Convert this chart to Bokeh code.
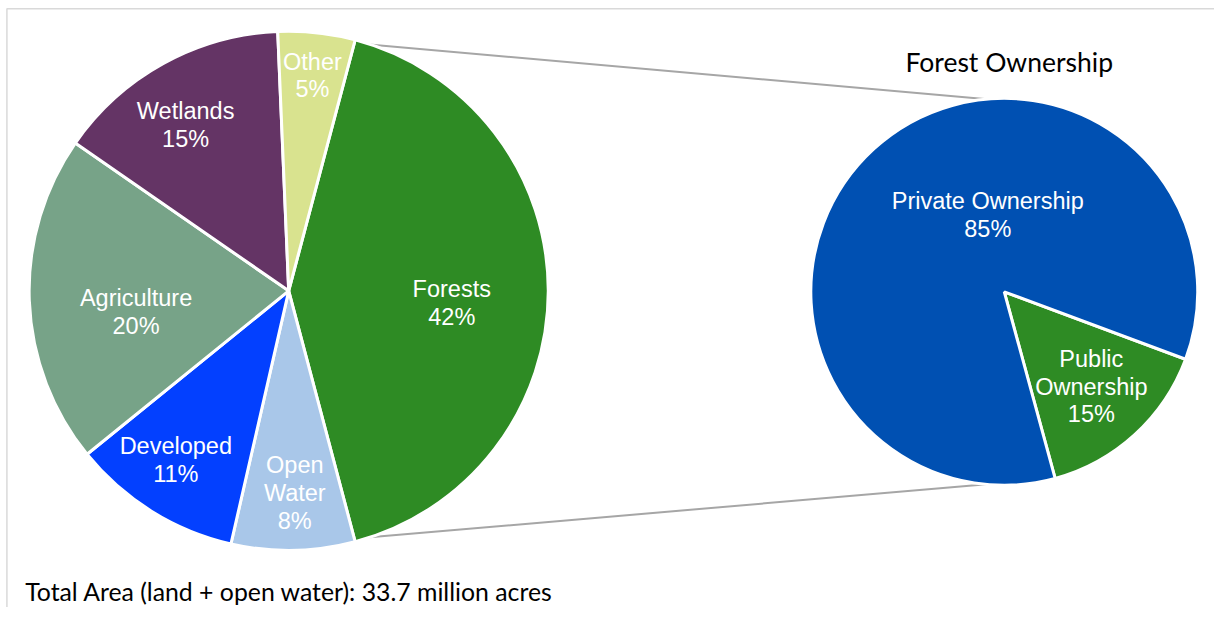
import math
from bokeh.plotting import figure
from bokeh.models import Range1d
from bokeh.embed import file_html
from bokeh.resources import INLINE
from bokeh.core.properties import value

# ---------------- data ----------------
land_categories = ["Forests", "Open\nWater", "Developed", "Agriculture", "Wetlands", "Other"]
land_shares = [41.8, 7.7, 10.6, 20.5, 14.7, 4.8]
land_pct_labels = ["42%", "8%", "11%", "20%", "15%", "5%"]

owner_categories = ["Public\nOwnership", "Private Ownership"]
owner_shares = [15.1, 84.9]
owner_pct_labels = ["15%", "85%"]

title_text = "Forest Ownership"
footnote_text = "Total Area (land + open water): 33.7 million acres"

# ---------------- styles / layout ----------------
land_colors = ["#2E8B24", "#A9C7E9", "#0340FF", "#77A388", "#643465", "#D9E38F"]
owner_colors = ["#2E8B24", "#0050B2"]

W, H = 1214, 607
REF_W, REF_H = 1230, 623

def py(y):  # reference y (down) -> data y (up)
    return REF_H - y

L_CX, L_CY, L_R = 292, py(298), 263
R_CX, R_CY, R_R = 1017, py(299), 196
OWNER_START = 110.4           # clockwise degrees from 12 o'clock
# label placement: (clockwise angle from 12 o'clock, fraction of radius)
land_label_pos = [(94.2, 0.63), (178.3, 0.79), (213.4, 0.79), (261.9, 0.594), (328.5, 0.76), (6.2, 0.845)]
owner_label_pos = [(137.8, 0.67), (348.0, 0.41)]

LABEL_FONT = "Liberation Sans"
LABEL_SIZE = "23.5px"
LINE_H = 1.07

p = figure(width=W, height=H, output_backend="svg", toolbar_location=None,
           x_range=Range1d(0, REF_W), y_range=Range1d(0, REF_H),
           min_border=0)
p.axis.visible = False
p.grid.visible = False
p.outline_line_color = None
p.background_fill_color = "white"


def bokeh_angle(theta):
    return math.radians(90.0 - theta)


def slices(shares, start):
    tot = sum(shares)
    out = []
    t = start
    for s in shares:
        span = 360.0 * s / tot
        out.append((t, t + span))
        t += span
    return out

# chart border (light gray)
p.line([6.5, 6.5, REF_W], [0, py(8.5), py(8.5)], line_color="#D9D9D9", line_width=1.5)

# ---- left pie ----
tot_land = sum(land_shares)
land_start = 90.0 - 180.0 * land_shares[0] / tot_land
land_sl = slices(land_shares, land_start)

# connector lines (drawn under the pies)
f0, f1 = land_sl[0]
p.line([L_CX + L_R * math.sin(math.radians(f0)), R_CX],
       [L_CY + L_R * math.cos(math.radians(f0)), R_CY + R_R],
       line_color="#A6A6A6", line_width=2)
p.line([L_CX + L_R * math.sin(math.radians(f1)), R_CX],
       [L_CY + L_R * math.cos(math.radians(f1)), R_CY - R_R],
       line_color="#A6A6A6", line_width=2)

p.wedge(x=[L_CX] * len(land_sl), y=[L_CY] * len(land_sl), radius=L_R,
        start_angle=[bokeh_angle(b) for a, b in land_sl],
        end_angle=[bokeh_angle(a) for a, b in land_sl],
        direction="anticlock", fill_color=land_colors,
        line_color="white", line_width=3)

lx, ly, lt = [], [], []
for (ang, fr), cat, pct in zip(land_label_pos, land_categories, land_pct_labels):
    m = math.radians(ang)
    lx.append(L_CX + fr * L_R * math.sin(m))
    ly.append(L_CY + fr * L_R * math.cos(m))
    lt.append(cat + "\n" + pct)
p.text(x=lx, y=ly, text=lt, text_align="center", text_baseline="middle",
       text_color="white", text_font=value(LABEL_FONT), text_font_size=LABEL_SIZE,
       text_line_height=LINE_H)

# ---- right pie ----
own_sl = slices(owner_shares, OWNER_START)
p.wedge(x=[R_CX] * len(own_sl), y=[R_CY] * len(own_sl), radius=R_R,
        start_angle=[bokeh_angle(b) for a, b in own_sl],
        end_angle=[bokeh_angle(a) for a, b in own_sl],
        direction="anticlock", fill_color=owner_colors,
        line_color="white", line_width=3)

ox, oy, ot = [], [], []
for (ang, fr), cat, pct in zip(owner_label_pos, owner_categories, owner_pct_labels):
    m = math.radians(ang)
    ox.append(R_CX + fr * R_R * math.sin(m))
    oy.append(R_CY + fr * R_R * math.cos(m))
    ot.append(cat + "\n" + pct)
p.text(x=ox, y=oy, text=ot, text_align="center", text_baseline="middle",
       text_color="white", text_font=value(LABEL_FONT), text_font_size=LABEL_SIZE,
       text_line_height=LINE_H)

# ---- titles ----
p.text(x=[1022], y=[py(63)], text=[title_text], text_align="center",
       text_baseline="alphabetic", text_color="black", text_font=value("Lato"),
       text_font_size="26.5px")
p.text(x=[25], y=[py(607)], text=[footnote_text], text_align="left",
       text_baseline="alphabetic", text_color="black", text_font=value("Lato"),
       text_font_size="24.8px")

open("out.html", "w").write(file_html(p, INLINE))
